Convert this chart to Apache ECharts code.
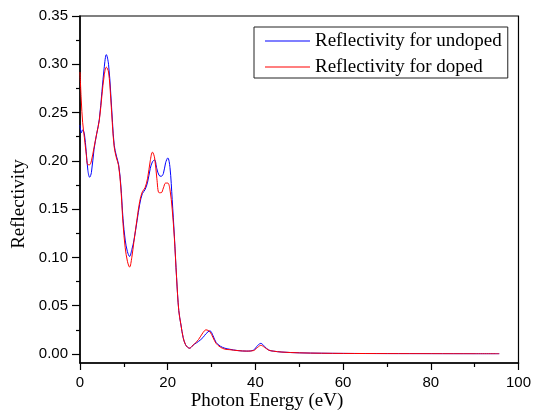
<!DOCTYPE html>
<html>
<head>
<meta charset="utf-8">
<script src="https://cdn.jsdelivr.net/npm/echarts@6/dist/echarts.min.js"></script>
<style>
html,body{margin:0;padding:0;background:#fff;}
#chart{width:534px;height:413px;}
</style>
</head>
<body>
<div id="chart"></div>
<script>
// Photon energy (eV)
const energy = [0, 0.3, 0.6, 1.0, 1.4, 1.8, 2.2, 2.6, 3.2, 3.8, 4.4, 5.0, 5.5, 6.0, 6.5, 7.0, 7.4, 7.8, 8.3, 8.8,
  9.3, 9.8, 10.3, 10.8, 11.3, 11.8, 12.3, 13.0, 13.6, 14.2, 14.8, 15.4, 16.0, 16.5, 17.0, 17.5, 18.0, 18.5, 19.0, 19.5,
  20.0, 20.5, 21.0, 21.5, 22.0, 22.5, 23.0, 23.5, 24.0, 24.5, 25.0, 25.5, 26.0, 27.0, 28.0, 28.7, 29.6, 30.3, 31.0, 32.0,
  33.0, 34.0, 36.0, 38.0, 39.5, 40.5, 41.2, 42.0, 43.0, 44.0, 46.0, 50.0, 55.0, 60.0, 65.0, 70.0, 80.0, 90.0, 95.5];
// Reflectivity for undoped
const undoped = [0.237, 0.229, 0.232, 0.228, 0.210, 0.190, 0.183, 0.188, 0.212, 0.228, 0.243, 0.272, 0.296, 0.310, 0.300, 0.270, 0.240, 0.216, 0.205, 0.196,
  0.175, 0.140, 0.118, 0.106, 0.101, 0.108, 0.118, 0.138, 0.155, 0.166, 0.170, 0.178, 0.192, 0.199, 0.201, 0.192, 0.185, 0.184, 0.187, 0.198,
  0.203, 0.193, 0.160, 0.122, 0.079, 0.045, 0.030, 0.017, 0.010, 0.007, 0.006, 0.008, 0.010, 0.013, 0.017, 0.021, 0.024, 0.019, 0.012, 0.008,
  0.006, 0.005, 0.0035, 0.003, 0.004, 0.009, 0.011, 0.008, 0.004, 0.003, 0.002, 0.0012, 0.0008, 0.0006, 0.0005, 0.0004, 0.0003, 0.0002, 0.0002];
// Reflectivity for doped
const doped = [0.292, 0.262, 0.240, 0.224, 0.208, 0.196, 0.196, 0.200, 0.214, 0.228, 0.242, 0.268, 0.288, 0.297, 0.292, 0.265, 0.236, 0.214, 0.203, 0.195,
  0.172, 0.135, 0.110, 0.096, 0.090, 0.100, 0.117, 0.140, 0.158, 0.168, 0.172, 0.182, 0.200, 0.209, 0.203, 0.182, 0.167, 0.167, 0.172, 0.177,
  0.177, 0.170, 0.150, 0.120, 0.079, 0.045, 0.030, 0.017, 0.010, 0.007, 0.006, 0.008, 0.010, 0.015, 0.022, 0.025, 0.023, 0.017, 0.011, 0.007,
  0.005, 0.0045, 0.0035, 0.003, 0.0035, 0.007, 0.009, 0.007, 0.004, 0.003, 0.002, 0.0012, 0.0008, 0.0006, 0.0005, 0.0004, 0.0003, 0.0002, 0.0002];
const seriesNames = ['Reflectivity for undoped', 'Reflectivity for doped'];
const xTitle = 'Photon Energy (eV)';
const yTitle = 'Reflectivity';

const pairs = arr => energy.map((e, i) => [e, arr[i]]);
const sans = 'Liberation Sans, Arial, sans-serif';
const serif = 'Liberation Serif, Times New Roman, serif';

const chart = echarts.init(document.getElementById('chart'));
chart.setOption({
  backgroundColor: '#fff',
  animation: false,
  grid: [
    {left: 80, right: 15, top: 16, bottom: 50, show: true, borderColor: '#000', borderWidth: 1.2, backgroundColor: 'transparent'},
    {left: 80, right: 15, top: 16, bottom: 59}
  ],
  xAxis: [
    {gridIndex: 0, type: 'value', min: 0, max: 100, interval: 20,
     axisLine: {show: true, onZero: false, lineStyle: {color: '#000', width: 1.5}},
     axisTick: {show: true, inside: false, length: 7, lineStyle: {color: '#000', width: 1.2}},
     minorTick: {show: true, splitNumber: 2, length: 4, lineStyle: {color: '#000', width: 1.2}},
     axisLabel: {color: '#000', fontFamily: sans, fontSize: 15, margin: 12},
     splitLine: {show: false}},
    {gridIndex: 1, type: 'value', min: 0, max: 100, show: false}
  ],
  yAxis: [
    {gridIndex: 0, type: 'value', min: -0.01, max: 0.35,
     axisLine: {show: true, onZero: false, lineStyle: {color: '#000', width: 1.5}},
     axisTick: {show: false}, axisLabel: {show: false}, splitLine: {show: false}},
    {gridIndex: 1, type: 'value', min: 0, max: 0.35, interval: 0.05,
     axisLine: {show: false},
     axisTick: {show: true, inside: false, length: 8, lineStyle: {color: '#000', width: 1.2}},
     minorTick: {show: true, splitNumber: 2, length: 4, lineStyle: {color: '#000', width: 1.2}},
     axisLabel: {color: '#000', fontFamily: sans, fontSize: 15, margin: 12,
       formatter: v => v.toFixed(2)},
     splitLine: {show: false}}
  ],
  legend: {
    orient: 'vertical', left: 254, top: 27,
    padding: [4, 6, 1, 11],
    borderColor: '#222', borderWidth: 1,
    icon: 'rect',
    itemWidth: 45, itemHeight: 1.2, itemGap: 6,
    textStyle: {color: '#000', fontFamily: serif, fontSize: 19, lineHeight: 20},
    data: seriesNames
  },
  graphic: [
    {type: 'text', left: 'center', top: 392,
     style: {text: xTitle, font: '19px ' + serif, fill: '#000'}},
    {type: 'text', x: 19, y: 204, rotation: Math.PI / 2,
     style: {text: yTitle, font: '19px ' + serif, fill: '#000', align: 'center', verticalAlign: 'middle'},
     originX: 0, originY: 0}
  ],
  series: [
    {name: seriesNames[0], type: 'line', xAxisIndex: 1, yAxisIndex: 1, data: pairs(undoped),
     symbol: 'none', smooth: 0.35, lineStyle: {color: '#0000ff', width: 1}, itemStyle: {color: '#0000ff'}},
    {name: seriesNames[1], type: 'line', xAxisIndex: 1, yAxisIndex: 1, data: pairs(doped),
     symbol: 'none', smooth: 0.35, lineStyle: {color: '#ff0000', width: 1}, itemStyle: {color: '#ff0000'}}
  ]
});
</script>
</body>
</html>
